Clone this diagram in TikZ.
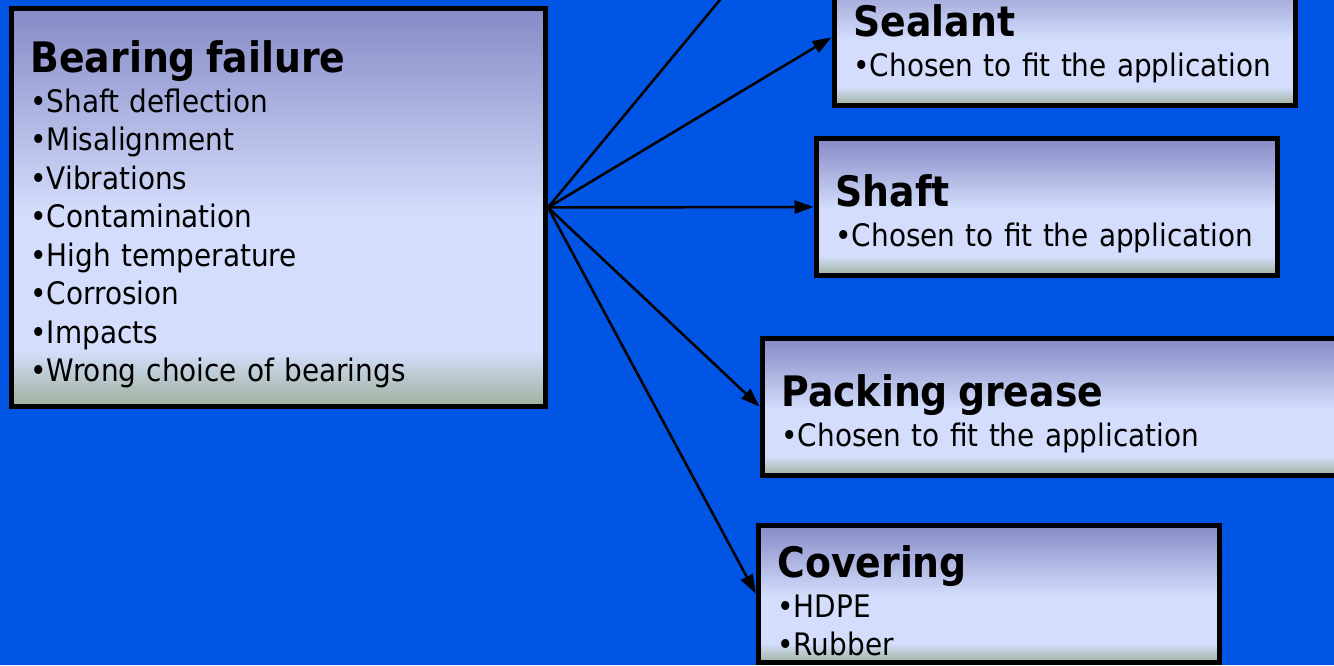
\documentclass[tikz,border=0pt]{standalone}
\usepackage{fontspec}
\setmainfont{DejaVu Sans Condensed}
\usetikzlibrary{arrows.meta}

\definecolor{slideblue}{RGB}{0,85,229}
\definecolor{shadetop}{RGB}{134,138,198}
\definecolor{shadelight}{RGB}{212,222,252}
\definecolor{shadebottom}{RGB}{158,176,156}

\pgfdeclareverticalshading{partshade}{100bp}{color(0bp)=(shadebottom); color(25bp)=(shadebottom); color(32bp)=(shadelight); color(49bp)=(shadelight); color(75bp)=(shadetop); color(100bp)=(shadetop)}

\newcommand{\headfont}{\bfseries\fontsize{42}{42}\selectfont}
\newcommand{\parthead}[1]{{\headfont\rule{0pt}{45pt}#1}\\[1.5pt]}
\newcommand{\partitem}[1]{\mbox{•#1}}

\tikzset{
  part/.style={draw=black, line width=5pt, shading=partshade, anchor=west, align=left,
    inner xsep=19pt, inner ysep=0pt, minimum height=137pt, text width=423pt,
    font=\fontsize{31}{38.5}\selectfont},
  link/.style={line width=2.5pt, shorten >=0.5pt, -{Triangle[length=19pt,width=13pt]}}
}

\begin{document}
\begin{tikzpicture}[x=1pt, y=-1pt]
\useasboundingbox (0,0) rectangle (1334,665);
\clip (0,0) rectangle (1334,665);
\fill[slideblue] (0,0) rectangle (1334,665);

% Cause
\node[part, text width=496pt, minimum height=398pt] (failure) at (9,207.5) {\parthead{Bearing failure}\partitem{Shaft deflection}\\\partitem{Misalignment}\\\partitem{Vibrations}\\\partitem{Contamination}\\\partitem{High temperature}\\\partitem{Corrosion}\\\partitem{Impacts}\\\partitem{Wrong choice of bearings}};

% Parts
\node[part] (sealant) at (832,37) {\parthead{Sealant}\partitem{Chosen to fit the application}};
\node[part] (shaft) at (814,207) {\parthead{Shaft}\partitem{Chosen to fit the application}};
\node[part, text width=545pt] (grease) at (760,407) {\parthead{Packing grease}\partitem{Chosen to fit the application}};
\node[part] (covering) at (756,594) {\parthead{Covering}\partitem{HDPE}\\\partitem{Rubber}};
\coordinate (upper) at (753,-40);

% Links
\draw[link] (failure.east) -- (upper);
\foreach \target in {sealant, shaft, grease, covering}
  \draw[link] (failure.east) -- (\target.west);
\end{tikzpicture}
\end{document}
